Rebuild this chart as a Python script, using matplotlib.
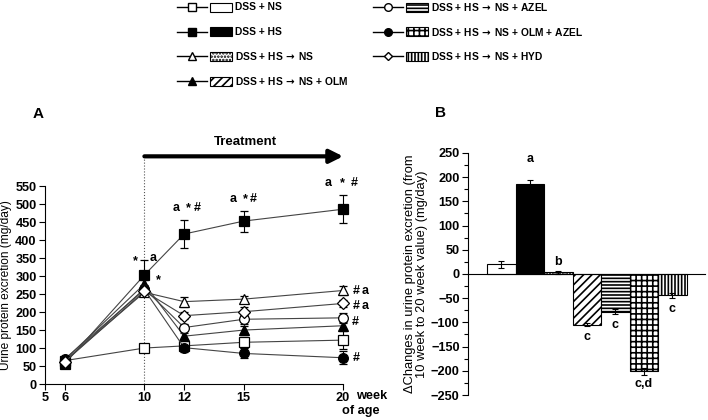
import numpy as np
import matplotlib
matplotlib.use('Agg')
import matplotlib.pyplot as plt
from matplotlib.patches import Rectangle
from matplotlib.lines import Line2D

plt.rcParams['font.family'] = ['Liberation Sans', 'DejaVu Sans']
plt.rcParams['font.weight'] = 'bold'
plt.rcParams['hatch.linewidth'] = 1.2

# ─── Data ────────────────────────────────────────────────────────────────────
weeks = [6, 10, 12, 15, 20]
arrow = '$\\,\\rightarrow\\,$'
groups = ['DSS + NS', 'DSS + HS', f'DSS + HS{arrow}NS', f'DSS + HS{arrow}NS + OLM',
          f'DSS + HS{arrow}NS + AZEL', f'DSS + HS{arrow}NS + OLM + AZEL',
          f'DSS + HS{arrow}NS + HYD']
protein = [
    [65, 100, 106, 116, 122],
    [57, 303, 417, 453, 486],
    [65, 255, 229, 236, 260],
    [68, 278, 133, 150, 162],
    [63, 265, 157, 180, 184],
    [70, 262, 101, 85, 73],
    [62, 258, 190, 201, 224],
]
protein_err = [
    [5, 8, 8, 15, 25],
    [5, 42, 38, 29, 39],
    [5, 10, 14, 10, 13],
    [5, 10, 10, 12, 10],
    [5, 10, 10, 12, 14],
    [5, 10, 12, 14, 18],
    [5, 10, 10, 12, 10],
]
delta = [20, 185, 3, -105, -78, -201, -44]
delta_err = [7, 8, 3, 3, 5, 7, 5]
delta_labels = ['', 'a', 'b', 'c', 'c', 'c,d', 'c']
delta_label_y = [0, 237, 25, -130, -105, -227, -72]

# styles
markers = ['s', 's', '^', '^', 'o', 'o', 'D']
mfaces = ['white', 'black', 'white', 'black', 'white', 'black', 'white']
msizes = [7, 7.5, 7, 7, 7, 7, 6]
hatches = [None, None, '.....', '////', '-----', '+++', '|||||']
bar_faces = ['white', 'black', 'white', 'white', 'white', 'white', 'white']

fig = plt.figure(figsize=(7.08, 4.2), dpi=100)

# ─── Panel A ─────────────────────────────────────────────────────────────────
axA = fig.add_axes([0.0636, 0.0857, 0.421, 0.471])
for i in range(len(groups)):
    axA.errorbar(weeks, protein[i], yerr=protein_err[i], color='#444444', lw=0.8,
                 ecolor='black', elinewidth=0.8, capsize=3, capthick=0.8,
                 marker=markers[i], mfc=mfaces[i], mec='black', mew=0.9,
                 ms=msizes[i], clip_on=False, zorder=3)
axA.set_xlim(5, 20)
axA.set_ylim(0, 550)
axA.set_xticks([5, 6, 10, 12, 15, 20])
axA.set_yticks(np.arange(0, 551, 50))
axA.tick_params(labelsize=9.2, length=4, width=0.8, direction='out', pad=2)
axA.spines['top'].set_visible(False)
axA.spines['right'].set_visible(False)
axA.set_ylabel('Urine protein excretion (mg/day)', fontsize=8.6)
axA.yaxis.set_label_coords(-0.112, 0.5)
axA.text(20.65, -0.03, 'week', transform=axA.get_xaxis_transform(),
         ha='left', va='top', fontsize=9.2)
axA.text(19.95, -0.104, 'of age', transform=axA.get_xaxis_transform(),
         ha='left', va='top', fontsize=9.2)

# treatment arrow and dotted line
axA.plot([10, 10], [0, 633], ls=':', color='#555555', lw=0.8, clip_on=False)
axA.annotate('', xy=(20, 633), xytext=(10, 633), annotation_clip=False,
             arrowprops=dict(arrowstyle='-|>,head_length=0.8,head_width=0.4',
                             lw=3, color='black', shrinkA=0, shrinkB=0))
axA.text(15.1, 672, 'Treatment', ha='center', va='center', fontsize=9.5)
axA.text(4.65, 750, 'A', ha='center', va='center', fontsize=11)

# significance marks
sig = [(9.53, 342, '*'), (10.44, 350, 'a'), (10.69, 289, '*'),
       (11.59, 489, 'a'), (12.2, 489, '*'), (12.65, 489, '#'),
       (14.46, 514, 'a'), (15.07, 514, '*'), (15.47, 514, '#'),
       (19.24, 558, 'a'), (19.95, 558, '*'), (20.55, 558, '#'),
       (20.65, 258, '#'), (21.1, 258, 'a'), (20.65, 217, '#'), (21.1, 217, 'a'),
       (20.6, 172, '#'), (20.65, 72, '#')]
for x, y, s in sig:
    axA.text(x, y, s, ha='center', va='center', fontsize=9, clip_on=False)

# ─── Panel B ─────────────────────────────────────────────────────────────────
axB = fig.add_axes([0.661, 0.0595, 0.335, 0.5765])
xb = np.arange(len(delta))
for i in range(len(delta)):
    axB.bar(xb[i], delta[i], width=1.0, color=bar_faces[i], edgecolor='black',
            hatch=hatches[i], lw=0.8, zorder=2)
    axB.errorbar(xb[i], delta[i], yerr=delta_err[i], color='black', lw=0.8,
                 capsize=2.5, capthick=0.8, zorder=3)
    if delta_labels[i]:
        axB.text(xb[i], delta_label_y[i], delta_labels[i], ha='center', va='center',
                 fontsize=9)
axB.set_xlim(-1.17, 7.15)
axB.set_ylim(-250, 250)
axB.set_yticks(np.arange(-250, 251, 50))
axB.set_yticks(np.arange(-250, 251, 25), minor=True)
axB.set_xticks([])
axB.spines['bottom'].set_position(('data', 0))
axB.spines['top'].set_visible(False)
axB.spines['right'].set_visible(False)
axB.tick_params(labelsize=9.2, length=4, width=0.8, direction='out', pad=2)
axB.tick_params(which='minor', length=3, width=0.8)
axB.set_ylabel('\u0394Changes in urine protein excretion (from\n10 week to 20 week value) (mg/day)',
               fontsize=9.3, linespacing=1.0)
axB.yaxis.set_label_coords(-0.17, 0.5)
axB.text(-2.15, 333, 'B', ha='center', va='center', fontsize=11, clip_on=False)

# ─── Legend ──────────────────────────────────────────────────────────────────
axL = fig.add_axes([0, 0, 1, 1], zorder=-1)
axL.set_xlim(0, 708)
axL.set_ylim(420, 0)
axL.axis('off')
rows = [0, 1, 2, 3, 0, 1, 2]
cols = [0, 0, 0, 0, 1, 1, 1]
for i, g in enumerate(groups):
    x0 = [177, 373][cols[i]]
    y0 = 7 + 24.7 * rows[i]
    axL.add_line(Line2D([x0, x0 + 30], [y0, y0], color='black', lw=1.0))
    axL.plot(x0 + 15, y0, marker=markers[i], mfc=mfaces[i], mec='black',
             ms=msizes[i] - 1.5, mew=1.0)
    axL.add_patch(Rectangle((x0 + 33, y0 - 4.5), 22, 9, facecolor=bar_faces[i],
                            edgecolor='black', hatch=hatches[i], lw=0.8))
    axL.text(x0 + 58, y0, g, ha='left', va='center', fontsize=7.4)

fig.savefig('out.png', dpi=100)
